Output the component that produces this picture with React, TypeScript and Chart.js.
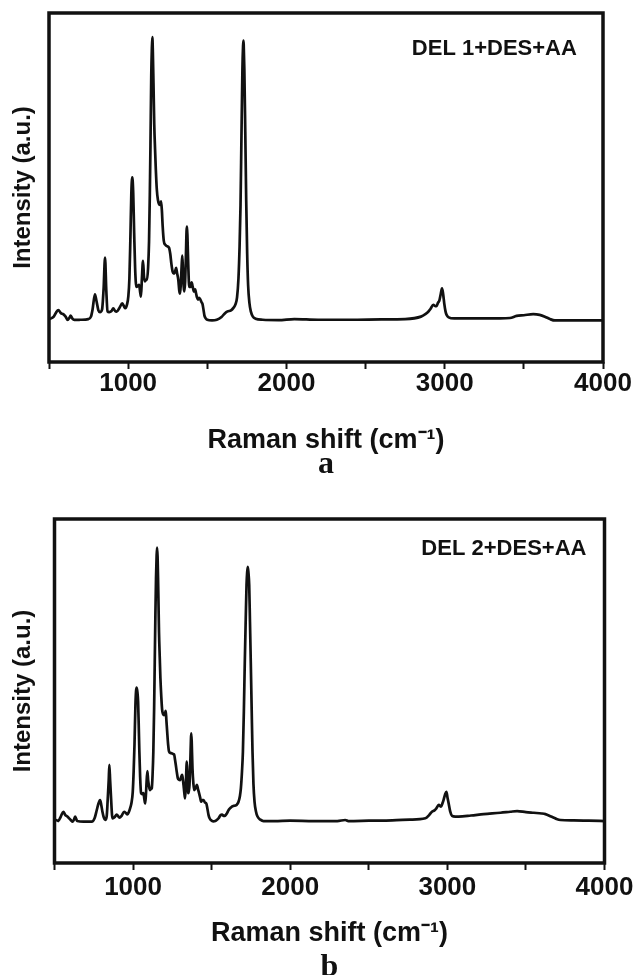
import { useEffect, useRef } from "react";
import { Chart, registerables } from "chart.js";

Chart.register(...registerables);

// ---------- data ----------
const wavenumberA = [
  500, 513, 530, 545, 559, 575, 590, 605, 618, 628, 637, 648, 660, 700, 748, 765, 775, 790, 800, 812,
  822, 835, 845, 854, 862, 870, 880, 895, 906, 918, 927, 945, 963, 975, 982, 993, 1001, 1008, 1014, 1020,
  1026, 1032, 1038, 1044, 1052, 1062, 1069, 1076, 1081, 1087, 1094, 1100, 1106, 1113, 1119, 1126, 1132, 1137, 1141, 1146,
  1150, 1153, 1156, 1160, 1165, 1170, 1175, 1181, 1188, 1196, 1203, 1208, 1213, 1218, 1225, 1234, 1245, 1258, 1266, 1273,
  1281, 1290, 1297, 1303, 1309, 1317, 1323, 1328, 1333, 1338, 1342, 1346, 1351, 1355, 1360, 1365, 1369, 1372, 1375, 1380,
  1386, 1393, 1401, 1408, 1416, 1423, 1429, 1435, 1441, 1448, 1455, 1463, 1470, 1476, 1482, 1490, 1500, 1530, 1560, 1590,
  1612, 1628, 1650, 1665, 1678, 1688, 1697, 1704, 1710, 1716, 1722, 1726, 1728, 1730, 1734, 1740, 1746, 1752, 1758, 1766,
  1775, 1788, 1805, 1850, 1950, 2050, 2200, 2400, 2600, 2750, 2850, 2880, 2896, 2910, 2928, 2940, 2949, 2958, 2966, 2975,
  2983, 2990, 2997, 3005, 3012, 3025, 3060, 3200, 3350, 3412, 3454, 3500, 3559, 3600, 3633, 3665, 3696, 3800, 3900, 4000,
];
const intensityA = [
  12.3, 12.5, 13.0, 14.2, 14.9, 14.0, 13.7, 13.0, 12.05, 12.6, 13.3, 12.4, 12.05, 12.1, 12.3, 13.0, 15.0, 19.4, 17.5, 14.8,
  14.3, 15.0, 21.0, 29.9, 20.5, 14.5, 14.3, 14.6, 15.4, 14.6, 14.4, 15.5, 16.8, 15.8, 15.4, 16.5, 18.7, 24.0, 35.0, 48.0,
  52.9, 48.5, 37.0, 27.0, 21.5, 21.8, 22.1, 20.0, 18.7, 24.0, 29.0, 24.5, 23.1, 23.6, 23.5, 27.0, 34.5, 48.0, 62.0, 82.0,
  90.0, 93.1, 89.0, 80.0, 68.0, 61.0, 55.0, 49.5, 46.5, 45.2, 45.0, 46.0, 43.5, 39.0, 34.8, 33.6, 33.2, 32.8, 31.0, 28.2,
  25.9, 25.3, 26.0, 27.0, 25.5, 23.5, 20.5, 19.6, 22.5, 27.5, 30.5, 26.5, 21.5, 20.2, 23.0, 30.5, 37.5, 38.8, 35.5, 27.5,
  21.5, 21.5, 22.8, 21.5, 20.2, 20.8, 19.7, 18.5, 17.9, 18.4, 18.0, 17.2, 16.6, 15.0, 13.3, 12.5, 12.1, 11.9, 12.1, 12.9,
  14.0, 14.5, 14.8, 15.5, 16.5, 18.5, 24.0, 33.0, 45.0, 65.0, 84.0, 90.5, 92.1, 91.0, 84.0, 66.0, 46.0, 31.0, 22.0, 17.0,
  14.5, 13.0, 12.4, 12.1, 12.0, 12.3, 12.1, 12.1, 12.2, 12.3, 13.0, 13.8, 14.4, 15.2, 16.4, 16.0, 16.1, 17.0, 17.6, 19.5,
  21.1, 19.5, 16.8, 14.5, 13.5, 12.8, 12.5, 12.5, 12.5, 12.6, 13.2, 13.4, 13.7, 13.5, 13.0, 12.3, 11.9, 11.9, 11.9, 11.9,
];

const wavenumberB = [
  500, 510, 524, 540, 556, 568, 582, 595, 603, 616, 624, 631, 638, 645, 684, 737, 755, 769, 778, 790,
  797, 805, 814, 822, 832, 839, 845, 849, 854, 860, 866, 870, 882, 896, 905, 913, 928, 943, 955, 964,
  973, 981, 990, 998, 1004, 1009, 1015, 1019, 1023, 1028, 1032, 1036, 1040, 1045, 1051, 1058, 1066, 1072, 1077, 1082,
  1085, 1091, 1096, 1100, 1108, 1114, 1119, 1124, 1129, 1134, 1138, 1142, 1146, 1150, 1153, 1156, 1159, 1162, 1165, 1170,
  1174, 1180, 1185, 1191, 1197, 1203, 1208, 1212, 1217, 1223, 1229, 1238, 1246, 1255, 1261, 1267, 1272, 1278, 1285, 1292,
  1299, 1306, 1312, 1317, 1321, 1326, 1331, 1336, 1342, 1346, 1351, 1355, 1359, 1364, 1368, 1370, 1373, 1378, 1384, 1389,
  1398, 1406, 1413, 1420, 1427, 1433, 1440, 1448, 1457, 1466, 1473, 1480, 1487, 1495, 1510, 1523, 1535, 1544, 1555, 1566,
  1576, 1587, 1598, 1608, 1619, 1629, 1640, 1650, 1661, 1671, 1680, 1686, 1693, 1699, 1705, 1711, 1717, 1722, 1726, 1730,
  1734, 1739, 1744, 1749, 1755, 1760, 1766, 1773, 1782, 1792, 1810, 1830, 1900, 2000, 2150, 2300, 2350, 2370, 2500, 2650,
  2760, 2860, 2885, 2902, 2918, 2930, 2945, 2960, 2970, 2977, 2986, 2994, 3001, 3008, 3018, 3030, 3050, 3072, 3150, 3231,
  3338, 3400, 3444, 3500, 3550, 3600, 3624, 3660, 3690, 3720, 3804, 3900, 4000,
];
const intensityB = [
  12.4, 12.5, 12.2, 13.5, 14.9, 14.0, 13.5, 12.9, 12.5, 12.0, 12.6, 13.5, 12.8, 12.2, 12.0, 12.0, 13.0, 15.4, 17.0, 18.3,
  17.0, 14.9, 13.2, 12.5, 13.5, 18.8, 24.0, 28.5, 24.0, 18.8, 14.0, 13.0, 13.3, 14.1, 13.6, 13.2, 13.8, 14.9, 14.5, 14.1,
  14.8, 15.9, 17.5, 20.7, 27.0, 34.3, 45.9, 50.0, 51.0, 49.5, 46.9, 40.0, 32.4, 25.0, 20.3, 20.0, 20.3, 18.5, 17.3, 20.0,
  22.7, 26.7, 24.0, 22.7, 21.2, 21.5, 21.7, 25.5, 32.4, 45.0, 58.5, 72.0, 82.8, 89.5, 91.7, 89.0, 82.8, 75.0, 67.2, 59.5,
  53.7, 48.0, 44.5, 43.3, 43.0, 43.5, 44.2, 41.5, 38.2, 34.5, 32.4, 32.0, 31.9, 31.7, 31.6, 30.0, 28.5, 26.5, 24.6, 24.2,
  24.1, 25.0, 25.6, 24.3, 22.7, 20.5, 18.8, 23.0, 29.5, 25.5, 20.3, 21.0, 22.7, 29.0, 35.5, 37.7, 35.5, 27.5, 23.0, 21.2,
  21.8, 22.7, 21.5, 20.3, 19.0, 17.8, 18.3, 18.3, 17.6, 17.3, 15.8, 14.0, 13.0, 12.5, 12.1, 12.2, 12.6, 13.0, 13.8, 14.1,
  13.7, 13.8, 14.5, 15.4, 16.0, 16.4, 16.6, 16.7, 17.0, 17.8, 19.5, 21.7, 26.5, 32.4, 44.0, 58.5, 71.0, 80.8, 84.5, 86.1,
  84.5, 80.8, 70.0, 58.5, 44.0, 32.4, 23.0, 17.8, 15.0, 13.5, 12.6, 12.2, 12.2, 12.3, 12.2, 12.2, 12.5, 12.2, 12.3, 12.4,
  12.6, 13.0, 14.0, 14.9, 15.3, 15.9, 16.9, 16.4, 17.5, 18.5, 20.0, 20.7, 19.0, 17.4, 15.0, 13.7, 13.5, 13.5, 13.8, 14.2,
  14.6, 14.9, 15.1, 14.8, 14.6, 14.4, 14.2, 13.5, 12.9, 12.5, 12.4, 12.3, 12.2,
];

const sampleLabels = ["DEL 1+DES+AA", "DEL 2+DES+AA"];
const panelLetters = ["a", "b"];
const xTickLabels = [1000, 2000, 3000, 4000];
const xTitle = "Raman shift (cm\u207B\u00B9)";
const yTitle = "Intensity (a.u.)";
const X_MIN = 500;
const X_MAX = 4000;
const X_STEP = 500;
const Y_MIN = 0;
const Y_MAX = 100;

// ---------- styles ----------
const SANS = "Arial, 'Liberation Sans', Helvetica, sans-serif";
const SERIF = "'Times New Roman', 'Liberation Serif', serif";
const INK = "#111111";

type PanelLayout = {
  top: number;
  height: number;
  area: { left: number; right: number; top: number; bottom: number };
  xScaleH: number;
  tickPad: number;
  labelAt: { x: number; y: number };
  letterOffset: number;
};

const layoutA: PanelLayout = {
  top: 0,
  height: 487,
  area: { left: 49, right: 603, top: 13, bottom: 362 },
  xScaleH: 95,
  tickPad: -1,
  labelAt: { x: 3835, y: 89.8 },
  letterOffset: 111,
};
const layoutB: PanelLayout = {
  top: 490,
  height: 485,
  area: { left: 54.5, right: 604.5, top: 29, bottom: 373 },
  xScaleH: 87,
  tickPad: 2.4,
  labelAt: { x: 3885, y: 91.4 },
  letterOffset: 113,
};

const framePlugin = {
  id: "frame",
  afterDatasetsDraw(chart: any) {
    const { ctx, chartArea: a } = chart;
    ctx.save();
    ctx.strokeStyle = INK;
    ctx.lineWidth = 3.5;
    ctx.strokeRect(a.left, a.top, a.right - a.left, a.bottom - a.top);
    ctx.restore();
  },
};

const annotatePlugin = {
  id: "annotate",
  afterDraw(chart: any, _args: any, opts: any) {
    const { ctx, chartArea, scales } = chart;
    ctx.save();
    ctx.fillStyle = INK;
    ctx.font = `bold 22px ${SANS}`;
    ctx.textAlign = "right";
    ctx.textBaseline = "middle";
    ctx.fillText(opts.text, scales.x.getPixelForValue(opts.x), scales.y.getPixelForValue(opts.y));
    ctx.font = `bold 32px ${SERIF}`;
    ctx.textAlign = "center";
    ctx.textBaseline = "alphabetic";
    ctx.fillText(opts.letter, (chartArea.left + chartArea.right) / 2, chartArea.bottom + opts.letterOffset);
    ctx.restore();
  },
};

function Panel(props: { xs: number[]; ys: number[]; label: string; letter: string; layout: PanelLayout }) {
  const ref = useRef<HTMLCanvasElement | null>(null);
  const { xs, ys, label, letter, layout } = props;

  useEffect(() => {
    if (!ref.current) return;
    const L = layout;
    const chart = new Chart(ref.current, {
      type: "line",
      data: {
        datasets: [
          {
            label,
            data: xs.map((x, i) => ({ x, y: ys[i] })),
            borderColor: INK,
            borderWidth: 2.7,
            pointRadius: 0,
            fill: false,
            cubicInterpolationMode: "monotone",
          },
        ],
      },
      options: {
        responsive: false,
        animation: false,
        events: [],
        layout: {
          padding: {
            left: 0,
            top: L.area.top,
            right: 640 - L.area.right,
            bottom: L.height - L.area.bottom - L.xScaleH,
          },
        },
        plugins: {
          legend: { display: false },
          tooltip: { enabled: false },
          annotate: { text: label, letter, x: L.labelAt.x, y: L.labelAt.y, letterOffset: L.letterOffset },
        } as any,
        scales: {
          x: {
            type: "linear",
            min: X_MIN,
            max: X_MAX,
            afterFit: (s: any) => {
              s.height = L.xScaleH;
            },
            ticks: {
              stepSize: X_STEP,
              autoSkip: false,
              maxRotation: 0,
              minRotation: 0,
              padding: L.tickPad,
              color: INK,
              font: { family: SANS, size: 26, weight: "bold" },
              callback: (v: any) => (xTickLabels.includes(Number(v)) ? String(v) : ""),
            },
            grid: {
              display: true,
              drawOnChartArea: false,
              drawTicks: true,
              tickLength: 7,
              tickWidth: 2,
              tickColor: INK,
            },
            border: { display: false },
            title: {
              display: true,
              text: xTitle,
              color: INK,
              font: { family: SANS, size: 27, weight: "bold" },
              padding: 0,
            },
          },
          y: {
            type: "linear",
            min: Y_MIN,
            max: Y_MAX,
            afterFit: (s: any) => {
              s.width = L.area.left;
            },
            ticks: { display: false },
            grid: { display: false },
            border: { display: false },
            title: {
              display: true,
              text: yTitle,
              color: INK,
              font: { family: SANS, size: 24, weight: "bold" },
              padding: { top: 8.6, bottom: 0 },
            },
          },
        },
      } as any,
      plugins: [framePlugin, annotatePlugin],
    });
    return () => chart.destroy();
  }, [xs, ys, label, letter, layout]);

  return (
    <canvas
      ref={ref}
      width={640}
      height={layout.height}
      style={{ position: "absolute", left: 0, top: layout.top, width: 640, height: layout.height, display: "block" }}
    />
  );
}

export default function App() {
  return (
    <div style={{ position: "absolute", left: 0, top: 0, width: 640, height: 975, background: "#fff", overflow: "hidden" }}>
      <Panel xs={wavenumberA} ys={intensityA} label={sampleLabels[0]} letter={panelLetters[0]} layout={layoutA} />
      <Panel xs={wavenumberB} ys={intensityB} label={sampleLabels[1]} letter={panelLetters[1]} layout={layoutB} />
    </div>
  );
}
